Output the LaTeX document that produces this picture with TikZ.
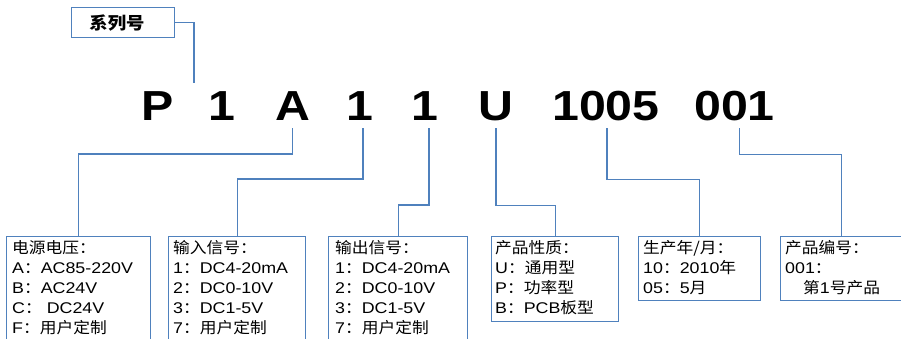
\documentclass[tikz,border=0pt]{standalone}
\usepackage{fontspec}
\setmainfont{Liberation Sans}[FakeStretch=1.15]
\newfontfamily\zhfont{Noto Sans CJK SC}[FakeStretch=1.08]
\newfontfamily\bigfont{Liberation Sans}[FakeStretch=1.15]
\newcommand{\zh}[1]{{\zhfont #1}}
\newcommand{\lnstrut}{\rule{0pt}{15pt}}
\definecolor{linkblue}{HTML}{4F81BD}
\tikzset{
  conn/.style={draw=linkblue, line width=1.1pt},
  infobox/.style={draw=linkblue, line width=1.1pt, rectangle, anchor=north west, inner sep=0pt},
  infotext/.style={anchor=north west, inner sep=0pt, align=left, font=\fontsize{15.5}{20}\selectfont},
  bigchar/.style={font=\bigfont\bfseries\fontsize{42}{42}\selectfont, anchor=base, inner sep=0pt, outer ysep=8pt},
}
\begin{document}
\begin{tikzpicture}[x=1pt,y=-1pt]
\useasboundingbox (0,0) rectangle (901,338);
% series box
\node[infobox, minimum width=103pt, minimum height=30pt] (ser) at (71,7) {};
\node[font=\zhfont\bfseries\fontsize{17}{17}\selectfont, inner sep=0pt] (sertext) at (117,23) {系列号};
\coordinate (serend) at (194,83);
\draw[conn] (ser.east) -| (serend);
% code characters
\node[bigchar] (cP) at (157.5,120) {P};
\node[bigchar] (c2) at (221.5,120) {1};
\node[bigchar] (cA) at (292.5,120) {A};
\node[bigchar] (c4) at (360,120) {1};
\node[bigchar] (c5) at (425,120) {1};
\node[bigchar] (cU) at (496,120) {U};
\node[bigchar] (c7) at (606,120) {1005};
\node[bigchar] (c8) at (734.5,120) {001};
% boxes
\node[infobox, minimum width=144pt, minimum height=112pt] (b1) at (6,236) {};
\node[infobox, minimum width=137pt, minimum height=112pt] (b2) at (168,236) {};
\node[infobox, minimum width=139pt, minimum height=112pt] (b3) at (328,236) {};
\node[infobox, minimum width=127pt, minimum height=85pt] (b4) at (491,236) {};
\node[infobox, minimum width=122pt, minimum height=64pt] (b5) at (638,236) {};
\node[infobox, minimum width=121pt, minimum height=64pt] (b6) at (780,236) {};
% texts
\node[infotext] (t1) at ([xshift=6pt,yshift=-2pt]b1.north west)
  {\lnstrut\zh{电源电压：}\\A\zh{：}AC85-220V\\B\zh{：}AC24V\\C\zh{：} DC24V\\F\zh{：用户定制}};
\node[infotext] (t2) at ([xshift=5pt,yshift=-2pt]b2.north west)
  {\lnstrut\zh{输入信号：}\\1\zh{：}DC4-20mA\\2\zh{：}DC0-10V\\3\zh{：}DC1-5V\\7\zh{：用户定制}};
\node[infotext] (t3) at ([xshift=7pt,yshift=-2pt]b3.north west)
  {\lnstrut\zh{输出信号：}\\1\zh{：}DC4-20mA\\2\zh{：}DC0-10V\\3\zh{：}DC1-5V\\7\zh{：用户定制}};
\node[infotext] (t4) at ([xshift=4pt,yshift=-2pt]b4.north west)
  {\lnstrut\zh{产品性质：}\\U\zh{：通用型}\\P\zh{：功率型}\\B\zh{：}PCB\zh{板型}};
\node[infotext] (t5) at ([xshift=5pt,yshift=-2pt]b5.north west)
  {\lnstrut\zh{生产年/月：}\\10\zh{：}2010\zh{年}\\05\zh{：}5\zh{月}};
\node[infotext] (t6) at ([xshift=5pt,yshift=-2pt]b6.north west)
  {\lnstrut\zh{产品编号：}\\001\zh{：}\\\hspace*{18pt}\zh{第}1\zh{号产品}};
% connectors
\draw[conn] (cA.south) -- ++(0,26) -| (b1.north);
\draw[conn] ([xshift=3pt]c4.south) -- ++(0,51) -| (b2.north);
\draw[conn] ([xshift=4pt]c5.south) -- ++(0,77) -| (b3.north);
\draw[conn] (cU.south) -- ++(0,77) -| (b4.north);
\draw[conn] ([xshift=1pt]c7.south) -- ++(0,51) -| (b5.north);
\draw[conn] ([xshift=5pt]c8.south) -- ++(0,26) -| (b6.north);
\end{tikzpicture}
\end{document}
